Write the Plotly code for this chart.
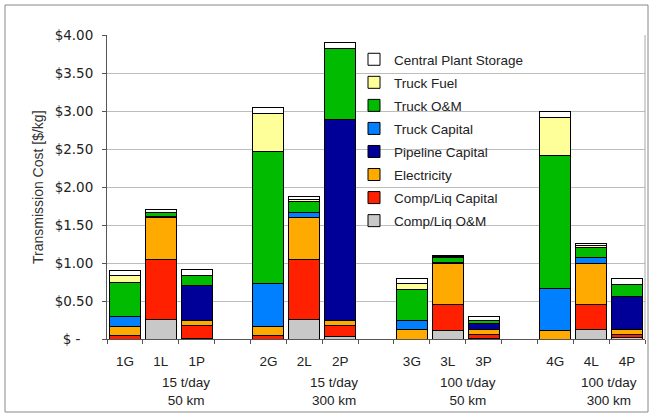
import plotly.graph_objects as go

# ---- data (values in $/kg, bottom-to-top stacking order) ----
bars = ["1G", "1L", "1P", "2G", "2L", "2P", "3G", "3L", "3P", "4G", "4L", "4P"]
comp_om       = [0.00, 0.26, 0.01, 0.00, 0.26, 0.03, 0.00, 0.11, 0.01, 0.00, 0.12, 0.02]
comp_capital  = [0.05, 0.78, 0.17, 0.05, 0.78, 0.15, 0.00, 0.34, 0.05, 0.00, 0.33, 0.04]
electricity   = [0.12, 0.56, 0.07, 0.12, 0.56, 0.07, 0.12, 0.55, 0.07, 0.11, 0.55, 0.06]
pipeline_cap  = [0.00, 0.00, 0.45, 0.00, 0.00, 2.64, 0.00, 0.00, 0.07, 0.00, 0.00, 0.44]
truck_capital = [0.13, 0.01, 0.00, 0.56, 0.07, 0.00, 0.12, 0.01, 0.00, 0.56, 0.07, 0.00]
truck_om      = [0.44, 0.05, 0.14, 1.74, 0.14, 0.93, 0.41, 0.06, 0.04, 1.75, 0.13, 0.16]
truck_fuel    = [0.09, 0.01, 0.00, 0.50, 0.03, 0.00, 0.08, 0.01, 0.00, 0.49, 0.03, 0.00]
storage       = [0.07, 0.03, 0.07, 0.08, 0.03, 0.08, 0.07, 0.02, 0.06, 0.08, 0.03, 0.07]

group_labels = ["15 t/day<br>50 km", "15 t/day<br>300 km", "100 t/day<br>50 km", "100 t/day<br>300 km"]
y_tick_vals = [0, 0.5, 1.0, 1.5, 2.0, 2.5, 3.0, 3.5, 4.0]
y_tick_text = ["$\u00a0-\u00a0\u00a0\u00a0", "$0.50", "$1.00", "$1.50", "$2.00", "$2.50", "$3.00", "$3.50", "$4.00"]

series = [
    ("Comp/Liq O&M", comp_om, "#c8c8c8"),
    ("Comp/Liq Capital", comp_capital, "#ff2000"),
    ("Electricity", electricity, "#ffaa00"),
    ("Pipeline Capital", pipeline_cap, "#000099"),
    ("Truck Capital", truck_capital, "#0080ff"),
    ("Truck O&M", truck_om, "#00bb00"),
    ("Truck Fuel", truck_fuel, "#ffff99"),
    ("Central Plant Storage", storage, "#ffffff"),
]

# category axis with blank spacer slots between groups
categories = []
for i, b in enumerate(bars):
    categories.append(b)
    if i % 3 == 2 and i < len(bars) - 1:
        categories.append(" " * (i // 3 + 1))

fig = go.Figure()
for k, (name, vals, col) in enumerate(series):
    fig.add_trace(go.Bar(
        x=bars, y=vals, name=name, legendgroup=name, legendrank=1000 - k,
        marker=dict(color=col, line=dict(color="#000000", width=1)),
    ))

L, R, T, B = 107, 7, 35, 78
W, H = 652, 417
pw, ph = W - L - R, H - T - B

def px_x(x):
    return (x - L) / pw

def px_y(y):
    return (H - B - y) / ph

font_main = "Liberation Sans, Arial, sans-serif"

fig.update_layout(
    width=W, height=H,
    margin=dict(l=L, r=R, t=T, b=B),
    barmode="stack", bargap=0.14,
    paper_bgcolor="white", plot_bgcolor="white",
    font=dict(family=font_main, size=13, color="#222222"),
    showlegend=True,
    legend=dict(
        traceorder="grouped", tracegroupgap=2.5,
        x=px_x(354), y=px_y(44), xanchor="left", yanchor="top",
        bgcolor="rgba(0,0,0,0)", font=dict(size=13.5, color="#222222"),
    ),
    xaxis=dict(
        type="category", categoryorder="array", categoryarray=categories,
        range=[-0.5, len(categories) - 0.5],
        tickson="boundaries", ticks="outside", ticklen=4, tickcolor="#555555",
        showline=True, linecolor="#555555", linewidth=1,
        showgrid=False, tickfont=dict(size=13.5), ticklabelstandoff=10,
    ),
    yaxis=dict(
        range=[0, 4], tickvals=y_tick_vals, ticktext=y_tick_text,
        ticks="outside", ticklen=4, tickcolor="#555555",
        showline=True, linecolor="#555555", linewidth=1,
        showgrid=True, gridcolor="#bdbdbd", gridwidth=1,
        tickfont=dict(family="DejaVu Sans, sans-serif", size=13.5), ticklabelstandoff=6,
        zeroline=False,
    ),
)

group_x = [186, 334, 468, 609]
for gx, gl in zip(group_x, group_labels):
    fig.add_annotation(
        x=px_x(gx), y=px_y(391), xref="paper", yref="paper",
        text=gl, showarrow=False, xanchor="center", yanchor="middle",
        font=dict(size=13.5, color="#222222"),
    )

fig.add_annotation(
    x=px_x(38), y=0.5, xref="paper", yref="paper",
    text="Transmission Cost [$/kg]", textangle=-90, showarrow=False,
    xanchor="center", yanchor="middle", font=dict(size=14, color="#333333"),
)

# white box behind the legend hiding gridlines
fig.add_shape(type="rect", xref="paper", yref="paper",
              x0=px_x(372), x1=px_x(530), y0=px_y(236), y1=px_y(47),
              fillcolor="white", line=dict(width=0), layer="between")
# right border of the plot area
fig.add_shape(type="line", xref="paper", yref="paper", x0=1, x1=1, y0=0, y1=1,
              line=dict(color="#aaaaaa", width=1))
# outer chart frame
fig.add_shape(type="rect", xref="paper", yref="paper",
              x0=px_x(5), x1=px_x(648), y0=px_y(412), y1=px_y(5),
              line=dict(color="#888888", width=1), fillcolor="rgba(0,0,0,0)")

fig.write_html("out.html",
               config={"displayModeBar": False},
               post_script="document.body.style.margin='0';document.body.style.overflow='hidden';")
